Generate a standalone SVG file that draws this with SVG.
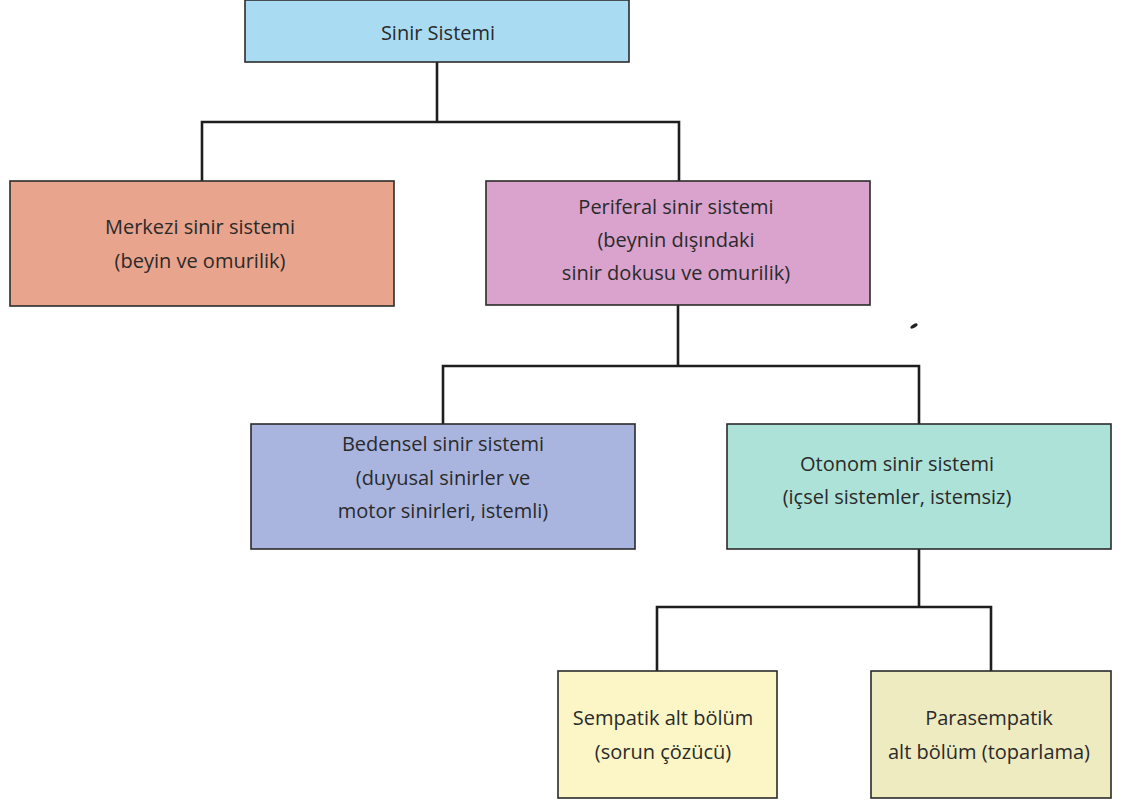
<svg xmlns="http://www.w3.org/2000/svg" width="1123" height="803" viewBox="0 0 1123 803">
<style>
.box{stroke:#2b2b2b;stroke-width:1.6}
.t{font-family:"Open Sans","Liberation Sans",sans-serif;font-size:20px;fill:#2a2a2a;text-anchor:middle}
.c{fill:none;stroke:#1e1e1e;stroke-width:2.6;stroke-linejoin:miter}
</style>
<rect width="1123" height="803" fill="#ffffff"/>
<g id="connectors">
<path class="c" d="M437 62 V122 M202 181 V122 H679 V181"/>
<path class="c" d="M678 305 V366 M443 424 V366 H919 V424"/>
<path class="c" d="M919 549 V607 M657 671 V607 H991 V671"/>
</g>
<g id="sinir-sistemi">
<rect class="box" x="245" y="0" width="384" height="62" fill="#a9dcf3"/>
<text class="t" x="438" y="40">Sinir Sistemi</text>
</g>
<g id="merkezi">
<rect class="box" x="10" y="181" width="384" height="125" fill="#e9a48d"/>
<text class="t" x="200" y="234">Merkezi sinir sistemi</text>
<text class="t" x="200" y="268">(beyin ve omurilik)</text>
</g>
<g id="periferal">
<rect class="box" x="486" y="181" width="384" height="124" fill="#d9a3cd"/>
<text class="t" x="676" y="214">Periferal sinir sistemi</text>
<text class="t" x="676" y="247">(beynin dışındaki</text>
<text class="t" x="676" y="280">sinir dokusu ve omurilik)</text>
</g>
<g id="bedensel">
<rect class="box" x="251" y="424" width="384" height="125" fill="#a9b5df"/>
<text class="t" x="443" y="451">Bedensel sinir sistemi</text>
<text class="t" x="443" y="485">(duyusal sinirler ve</text>
<text class="t" x="443" y="518">motor sinirleri, istemli)</text>
</g>
<g id="otonom">
<rect class="box" x="727" y="424" width="384" height="125" fill="#ade2d8"/>
<text class="t" x="897" y="471">Otonom sinir sistemi</text>
<text class="t" x="897" y="504">(içsel sistemler, istemsiz)</text>
</g>
<g id="sempatik">
<rect class="box" x="558" y="671" width="219" height="127" fill="#fcf6c7"/>
<text class="t" x="663" y="725">Sempatik alt bölüm</text>
<text class="t" x="663" y="759">(sorun çözücü)</text>
</g>
<g id="parasempatik">
<rect class="box" x="871" y="671" width="240" height="127" fill="#efebc1"/>
<text class="t" x="989" y="725">Parasempatik</text>
<text class="t" x="989" y="759">alt bölüm (toparlama)</text>
</g>
<ellipse cx="914" cy="326" rx="4" ry="1.8" transform="rotate(-30 914 326)" fill="#222"/>
</svg>
